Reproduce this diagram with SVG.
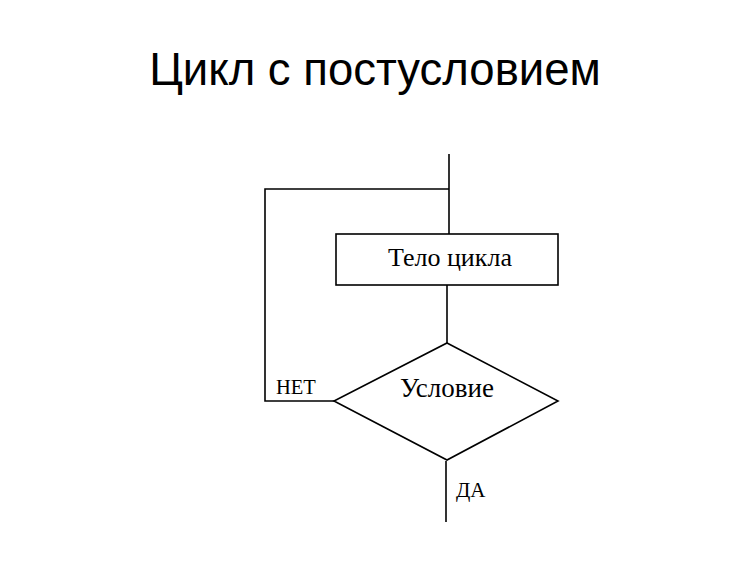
<svg xmlns="http://www.w3.org/2000/svg" width="750" height="561" viewBox="0 0 750 561">
<style>
.ln{fill:none;stroke:#000;stroke-width:1.6}
.sh{fill:#fff;stroke:#000;stroke-width:1.6}
.t{font-family:"Liberation Serif","Times New Roman",serif;fill:#000}
.title{font-family:"Liberation Sans",Arial,sans-serif;font-size:45.5px;fill:#000}
</style>
<rect width="750" height="561" fill="#fff"/>
<text class="title" x="375" y="85" text-anchor="middle">Цикл с постусловием</text>
<g id="connectors">
<polyline class="ln" points="449,154 449,234"/>
<polyline class="ln" points="449,189 265,189 265,401 334,401"/>
<polyline class="ln" points="447,285 447,343"/>
<polyline class="ln" points="446,461 446,522"/>
<text class="t" x="276" y="394" font-size="20.5">НЕТ</text>
<text class="t" x="456" y="497" font-size="21">ДА</text>
</g>
<g id="body">
<rect class="sh" x="336" y="234" width="222" height="51"/>
<text class="t" x="450" y="266" font-size="26" text-anchor="middle">Тело цикла</text>
</g>
<g id="condition">
<polygon class="sh" points="447,343 558,401 447,460 334,401"/>
<text class="t" x="447" y="397" font-size="27" text-anchor="middle">Условие</text>
</g>
</svg>
